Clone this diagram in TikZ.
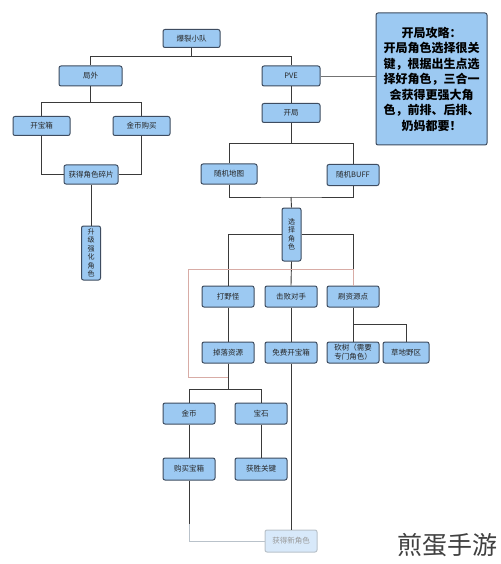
\documentclass[tikz,border=0pt]{standalone}
\usepackage{fontspec}
\setmainfont{Noto Sans CJK SC}
\usepackage{xcolor}
\usepackage{tikz}
\usetikzlibrary{calc}

\definecolor{azul}{HTML}{9CC9F2}
\definecolor{borde}{HTML}{3E4C60}
\definecolor{lineacol}{HTML}{3A3A3A}
\definecolor{rojo}{HTML}{D8ACA6}
\definecolor{azulclaro}{HTML}{D8E9FA}
\definecolor{gris}{HTML}{B9C2CA}

\begin{document}
\begin{tikzpicture}[x=1pt,y=-1pt,
    caja/.style={draw=borde, fill=azul, rounded corners=2pt, line width=1pt,
        minimum width=52pt, minimum height=21pt, inner sep=1pt,
        font=\fontsize{7.5}{9}\selectfont, text=black!85},
    vertical/.style={caja, minimum width=19pt, minimum height=54pt, align=center,
        font=\fontsize{7}{8.5}\selectfont},
    linea/.style={draw=lineacol, line width=0.9pt},
    roja/.style={draw=rojo, line width=1pt},
    tenue/.style={draw=gris, line width=0.9pt}]
    \useasboundingbox[fill=white] (0,0) rectangle (500,564);

    % nivel superior
    \node[caja, minimum width=57pt, minimum height=18pt] (bl) at (191.5,38.5) {爆裂小队};
    \node[caja, minimum width=63pt, minimum height=20pt] (jw) at (90.5,76) {局外};
    \node[caja, minimum width=58pt, minimum height=20pt] (pve) at (291,76) {PVE};
    \node[caja, minimum width=58pt, minimum height=19pt] (kj) at (291,113) {开局};
    \node[caja, minimum width=111pt, minimum height=132pt, align=center,
        font=\fontsize{12}{15.5}\selectfont\bfseries, text=black] (gl) at (431.5,79)
        {开局攻略：\\开局角色选择很关\\键，根据出生点选\\择好角色，三合一\\会获得更强大角\\色，前排、后排、\\奶妈都要！};

    % rama izquierda
    \node[caja, minimum width=57pt, minimum height=19pt] (kbx) at (41.5,126) {开宝箱};
    \node[caja, minimum width=57pt, minimum height=19pt] (jbgm) at (141.5,126) {金币购买};
    \node[caja, minimum width=54pt, minimum height=19pt] (hdjs) at (91,174.5) {获得角色碎片};
    \node[vertical] (sjqh) at (91,253) {升\\级\\强\\化\\角\\色};

    % rama PVE
    \node[caja, minimum width=56pt, minimum height=20pt] (sjdt) at (229,174) {随机地图};
    \node[caja, minimum height=21pt] (sjbuff) at (353,175) {随机BUFF};
    \node[vertical, minimum height=53pt] (xzjs) at (291.5,234.5) {选\\择\\角\\色};
    \node[caja] (dyg) at (228,296.5) {打野怪};
    \node[caja] (jbds) at (291,296.5) {击败对手};
    \node[caja] (zydian) at (353,296.5) {刷资源点};
    \node[caja] (dlzy) at (228,352.5) {掉落资源};
    \node[caja] (mfkbx) at (291,352.5) {免费开宝箱};
    \node[caja, align=center] (ks) at (353,352.5) {砍树（需要\\专门角色）};
    \node[caja, minimum width=46pt] (cdyq) at (406,352.5) {草地野区};
    \node[caja] (jb) at (189,413.5) {金币};
    \node[caja] (bs) at (261,413.5) {宝石};
    \node[caja, minimum height=22pt] (gmbx) at (189,469) {购买宝箱};
    \node[caja, minimum height=22pt] (hsgj) at (261,469) {获胜关键};
    \node[caja, draw=gris, fill=azulclaro, text=black!40, minimum height=22pt] (hdxjs) at (291,541) {获得新角色};

    \node[font=\fontsize{25}{25}\selectfont, text=black!75] (logo) at (447,545) {煎蛋手游};

    % conexiones
    \draw[linea] (bl.south) -- ++(0,8.5) -| (jw.north);
    \draw[linea] (bl.south) -- ++(0,8.5) -| (pve.north);
    \draw[linea, draw=black!55] (pve.east) -- (gl.west |- pve.east);
    \draw[linea] (jw.south) -- ++(0,16) -| (kbx.north);
    \draw[linea] (jw.south) -- ++(0,16) -| (jbgm.north);
    \draw[linea] (kbx.south) |- (hdjs.west);
    \draw[linea] (jbgm.south) |- (hdjs.east);
    \draw[linea] (hdjs.south) -- (sjqh.north);
    \draw[linea] (pve.south) -- (kj.north);
    \draw[linea] (kj.south) -- ++(0,20.5) -| (sjdt.north);
    \draw[linea] (kj.south) -- ++(0,20.5) -| (sjbuff.north);
    \coordinate (m1) at (291,197);
    \draw[linea] (sjdt.south) |- (m1) -| (sjbuff.south);
    \draw[linea] (m1) -- (xzjs.north);
    \draw[linea] (xzjs.west) -| (dyg.north);
    \draw[linea] (xzjs.east) -| (zydian.north);
    \draw[linea] (xzjs.south) -- (jbds.north);
    \draw[linea] (dyg.south) -- (dlzy.north);
    \draw[linea] (jbds.south) -- (mfkbx.north);
    \draw[linea] (zydian.south) -- (ks.north);
    \draw[linea] (zydian.south) -- ++(0,17) -| (cdyq.north);
    \coordinate (rc) at (188,377);
    \draw[roja] (zydian.north) -- ++(0,-16) -| (rc) -- (rc -| dlzy.south);
    \draw[linea] (dlzy.south) -- ++(0,26) -| (jb.north);
    \draw[linea] (dlzy.south) -- ++(0,26) -| (bs.north);
    \draw[linea] (jb.south) -- (gmbx.north);
    \draw[linea] (bs.south) -- (hsgj.north);
    \draw[linea] (mfkbx.south) -- (hdxjs.north);
    \draw[linea] (gmbx.south) -- ++(0,43) coordinate (f1);
    \draw[tenue] (f1) |- (hdxjs.west);
\end{tikzpicture}
\end{document}
